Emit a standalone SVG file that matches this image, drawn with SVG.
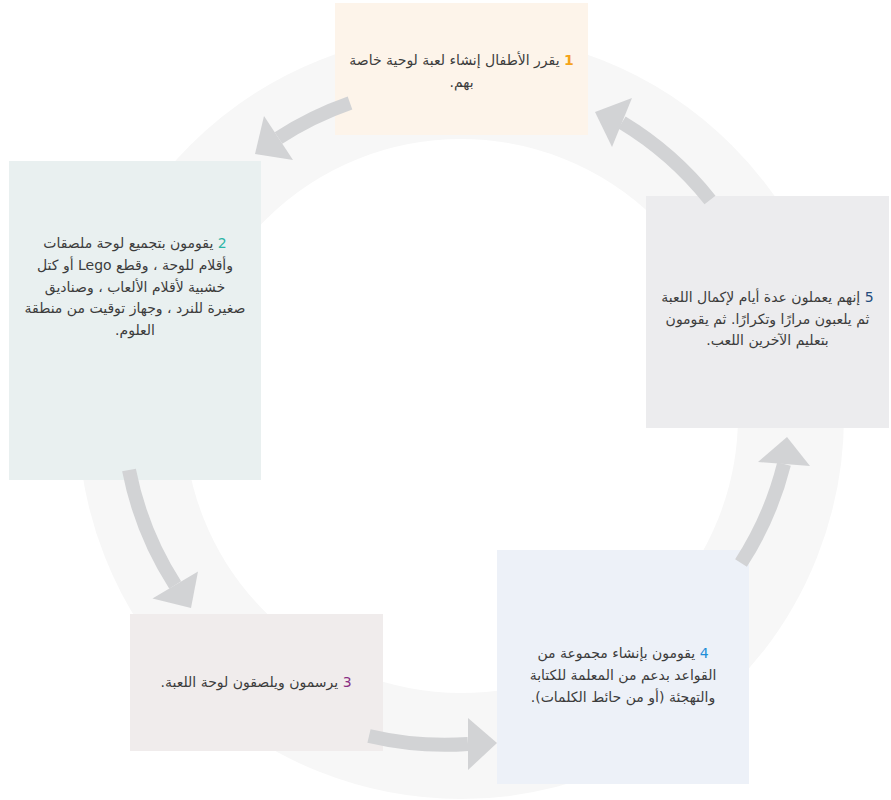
<svg xmlns="http://www.w3.org/2000/svg" width="891" height="800" viewBox="0 0 891 800">
<style>
  .box-text { font-family: 'DejaVu Sans', 'Noto Sans', sans-serif; font-size: 14px; fill: #3c3c3c; text-anchor: middle; }
  .num { font-weight: 600; }
  .arrow-body { fill: none; stroke: #d2d3d5; stroke-width: 14; stroke-linecap: butt; }
  .arrow-head { fill: #d2d3d5; }
</style>
<rect x="0" y="0" width="891" height="800" fill="#ffffff"/>
<g id="ring">
  <circle cx="461" cy="416" r="330" fill="none" stroke="#f7f7f7" stroke-width="106"/>
</g>
<g id="node1">
  <rect x="335" y="3" width="253" height="132" fill="#fdf4ea"/>
  <text class="box-text" direction="rtl" x="461.5" y="65"><tspan class="num" fill="#f5a31a">1</tspan> يقرر الأطفال إنشاء لعبة لوحية خاصة</text>
  <text class="box-text" direction="rtl" x="461.5" y="87">بهم.</text>
</g>
<g id="node2">
  <rect x="9" y="161" width="252" height="319" fill="#e9f0f0"/>
  <text class="box-text" direction="rtl" x="135" y="248"><tspan fill="#2cb5a5">2</tspan> يقومون بتجميع لوحة ملصقات</text>
  <text class="box-text" direction="rtl" x="135" y="270">وأقلام للوحة ، وقطع Lego أو كتل</text>
  <text class="box-text" direction="rtl" x="135" y="292">خشبية لأقلام الألعاب ، وصناديق</text>
  <text class="box-text" direction="rtl" x="135" y="313">صغيرة للنرد ، وجهاز توقيت من منطقة</text>
  <text class="box-text" direction="rtl" x="135" y="335">العلوم.</text>
</g>
<g id="node3">
  <rect x="130" y="614" width="253" height="137" fill="#f0ecec"/>
  <text class="box-text" direction="rtl" x="256" y="687"><tspan fill="#8a2f84">3</tspan> يرسمون ويلصقون لوحة اللعبة.</text>
</g>
<g id="node4">
  <rect x="497" y="550" width="252" height="234" fill="#edf1f8"/>
  <text class="box-text" direction="rtl" x="623" y="658"><tspan fill="#1f8ed8">4</tspan> يقومون بإنشاء مجموعة من</text>
  <text class="box-text" direction="rtl" x="623" y="680">القواعد بدعم من المعلمة للكتابة</text>
  <text class="box-text" direction="rtl" x="623" y="702">والتهجئة (أو من حائط الكلمات).</text>
</g>
<g id="node5">
  <rect x="646" y="196" width="243" height="232" fill="#ececee"/>
  <text class="box-text" direction="rtl" x="767.5" y="302"><tspan fill="#234b7c">5</tspan> إنهم يعملون عدة أيام لإكمال اللعبة</text>
  <text class="box-text" direction="rtl" x="767.5" y="324">ثم يلعبون مرارًا وتكرارًا. ثم يقومون</text>
  <text class="box-text" direction="rtl" x="767.5" y="345">بتعليم الآخرين اللعب.</text>
</g>
<g id="connectors">
  <path class="arrow-body" d="M350,103 A331,331 0 0 0 278.5,138"/>
  <polygon class="arrow-head" points="264,116 293,160 255,154"/>
  <path class="arrow-body" d="M129,470 A331,331 0 0 0 175.2,585"/>
  <polygon class="arrow-head" points="152.5,598.5 198,571.5 191,608"/>
  <path class="arrow-body" d="M369,736 A331,331 0 0 0 468,744"/>
  <polygon class="arrow-head" points="468,718 468,770 497,743"/>
  <path class="arrow-body" d="M741,563 A331,331 0 0 0 784,464"/>
  <polygon class="arrow-head" points="758,462 810,466 787,437"/>
  <path class="arrow-body" d="M710,200 A331,331 0 0 0 622,122.5"/>
  <polygon class="arrow-head" points="632,98 612,147 595,112"/>
</g>
</svg>
